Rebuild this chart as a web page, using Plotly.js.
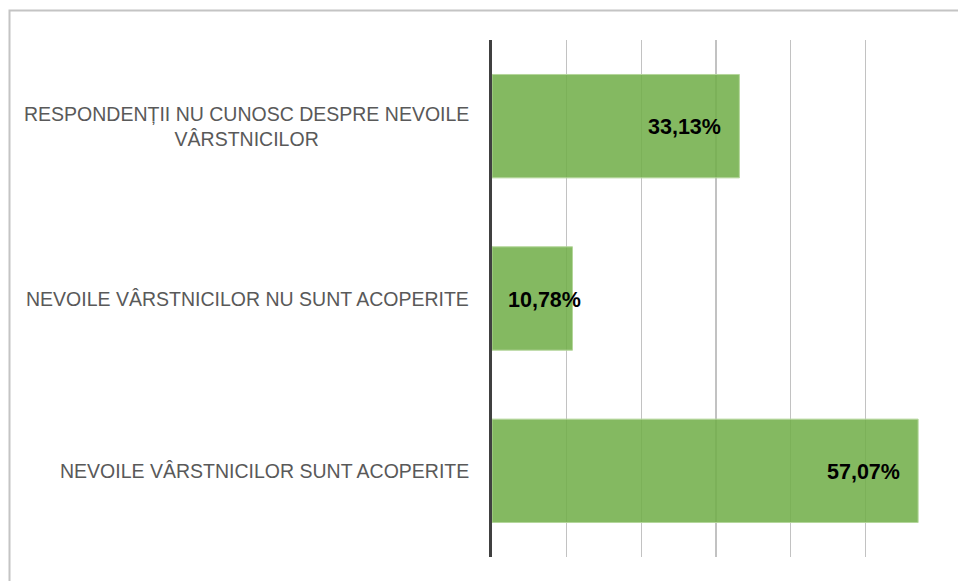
<!DOCTYPE html>
<html>
<head>
<meta charset="utf-8">
<script src="https://cdn.plot.ly/plotly-3.0.1.min.js"></script>
<style>html,body{margin:0;padding:0;background:#fff;}#chart{width:958px;height:581px;}</style>
</head>
<body>
<div id="chart"></div>
<script>
// Data (top to bottom)
const categories = [
  "RESPONDENȚII NU CUNOSC DESPRE NEVOILE<br>VÂRSTNICILOR",
  "NEVOILE VÂRSTNICILOR NU SUNT ACOPERITE",
  "NEVOILE VÂRSTNICILOR SUNT ACOPERITE"
];
const values = [33.13, 10.78, 57.07];
const valueLabels = ["33,13%", "10,78%", "57,07%"];
const axisMax = 60;

const W = 958, H = 581;
const margin = {l: 492, r: 18, t: 40, b: 24};
const plotW = W - margin.l - margin.r;
const plotH = H - margin.t - margin.b;

const trace = {
  type: 'bar',
  orientation: 'h',
  x: values,
  y: categories,
  marker: {
    color: 'rgba(112,173,71,0.86)',
    line: {color: 'rgba(180,214,155,1)', width: 1}
  },
  hoverinfo: 'skip'
};

const annotations = [];
categories.forEach((c, i) => {
  annotations.push({
    xref: 'paper', yref: 'y', x: 0, y: c,
    xanchor: 'right', yanchor: 'middle', xshift: -21,
    text: c, showarrow: false, align: 'center',
    font: {family: 'Liberation Sans, Arial, sans-serif', size: 19.5, color: '#595959'}
  });
});
const labelFont = {family: 'Liberation Sans, Arial, sans-serif', size: 21.5, color: '#000000', weight: 'bold'};
values.forEach((v, i) => {
  const barPx = v / axisMax * plotW;
  const estW = valueLabels[i].length * 0.58 * labelFont.size;
  const fits = barPx - 16 - estW >= 15;
  annotations.push({
    xref: 'x', yref: 'y', x: fits ? v : 0, y: categories[i],
    xanchor: fits ? 'right' : 'left', yanchor: 'middle',
    xshift: fits ? -16 : 14, yshift: -1,
    text: '<b>' + valueLabels[i] + '</b>', showarrow: false,
    font: labelFont
  });
});

const layout = {
  width: W, height: H,
  margin: margin,
  paper_bgcolor: '#ffffff', plot_bgcolor: '#ffffff',
  showlegend: false,
  bargap: 0.4,
  xaxis: {
    range: [0, axisMax], dtick: 10, tick0: 0,
    showticklabels: false, ticks: '',
    showgrid: true, gridcolor: '#c2c2c2', gridwidth: 1.5,
    zeroline: false, showline: false, fixedrange: true
  },
  yaxis: {
    type: 'category', autorange: 'reversed',
    showticklabels: false, ticks: '',
    showgrid: false, zeroline: false,
    showline: true, linecolor: '#404040', linewidth: 3,
    fixedrange: true
  },
  annotations: annotations,
  shapes: [{
    type: 'rect', xref: 'paper', yref: 'paper',
    x0: (9.5 - margin.l) / plotW, x1: (W + 10 - margin.l) / plotW,
    y0: 1 + (margin.t - 10.5) / plotH, y1: -(margin.b + 10) / plotH,
    line: {color: '#c4c4c4', width: 2}, fillcolor: 'rgba(0,0,0,0)', layer: 'below'
  }]
};

Plotly.newPlot('chart', [trace], layout, {displayModeBar: false, staticPlot: true});
</script>
</body>
</html>
